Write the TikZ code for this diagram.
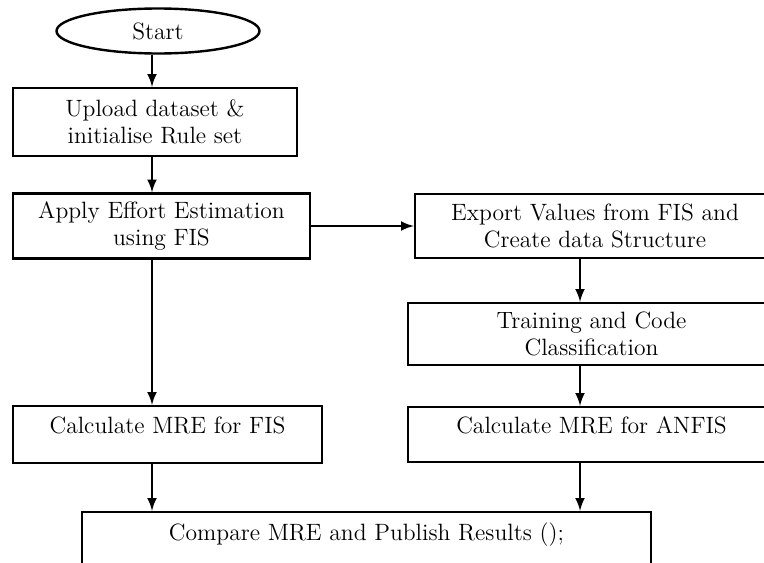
\documentclass[tikz,border=0pt]{standalone}
\usetikzlibrary{shapes,arrows,positioning}

\begin{document}
\begin{tikzpicture}[x=0.5pt, y=-0.5pt,
    font=\fontsize{11.8}{13.5}\selectfont,
    process/.style={rectangle, draw, line width=1.2pt, align=center, inner sep=0pt},
    result/.style={process, text height=9pt, text depth=10.5pt},
    flow/.style={->, >=latex, line width=1.2pt}]
    \useasboundingbox (0,0) rectangle (764,562);
    \clip (0,0) rectangle (764,562);
    \coordinate (left col) at (152,0);
    \coordinate (right col) at (580,0);

    \node[ellipse, draw, line width=1.2pt, minimum width=101.5pt, minimum height=22.5pt, inner sep=0pt] (start) at (158,31) {Start};
    \node[process, minimum width=142pt, minimum height=34pt] (upload) at (155,122) {Upload dataset \&\\ initialise Rule set};
    \node[process, minimum width=148.5pt, minimum height=32.5pt] (apply) at (161.5,226) {Apply Effort Estimation\\ using FIS};
    \node[process, minimum width=180pt, minimum height=32pt] (export) at (595,226) {Export Values from FIS and\\ Create data Structure};
    \node[process, minimum width=183.5pt, minimum height=31pt] (training) at (591.5,334) {Training and Code\\ Classification};
    \node[result, minimum width=183.5pt, minimum height=27.5pt] (mre anfis) at (591.5,434.5) {Calculate MRE for ANFIS};
    \node[result, minimum width=154.5pt, minimum height=28.5pt] (mre fis) at (167.5,434.5) {Calculate MRE for FIS};
    \node[result, minimum width=284.5pt, minimum height=30pt] (compare) at (366.5,542) {Compare MRE and Publish Results ();};

    \draw[flow] (start.south -| left col) -- (upload.north -| left col);
    \draw[flow] (upload.south -| left col) -- (apply.north -| left col);
    \draw[flow] (apply.east) -- (export.west);
    \draw[flow] (apply.south -| left col) -- (mre fis.north -| left col);
    \draw[flow] (export.south -| right col) -- (training.north -| right col);
    \draw[flow] (training.south -| right col) -- (mre anfis.north -| right col);
    \draw[flow] (mre fis.south -| left col) -- (compare.north -| left col);
    \draw[flow] (mre anfis.south -| right col) -- (compare.north -| right col);
\end{tikzpicture}
\end{document}
